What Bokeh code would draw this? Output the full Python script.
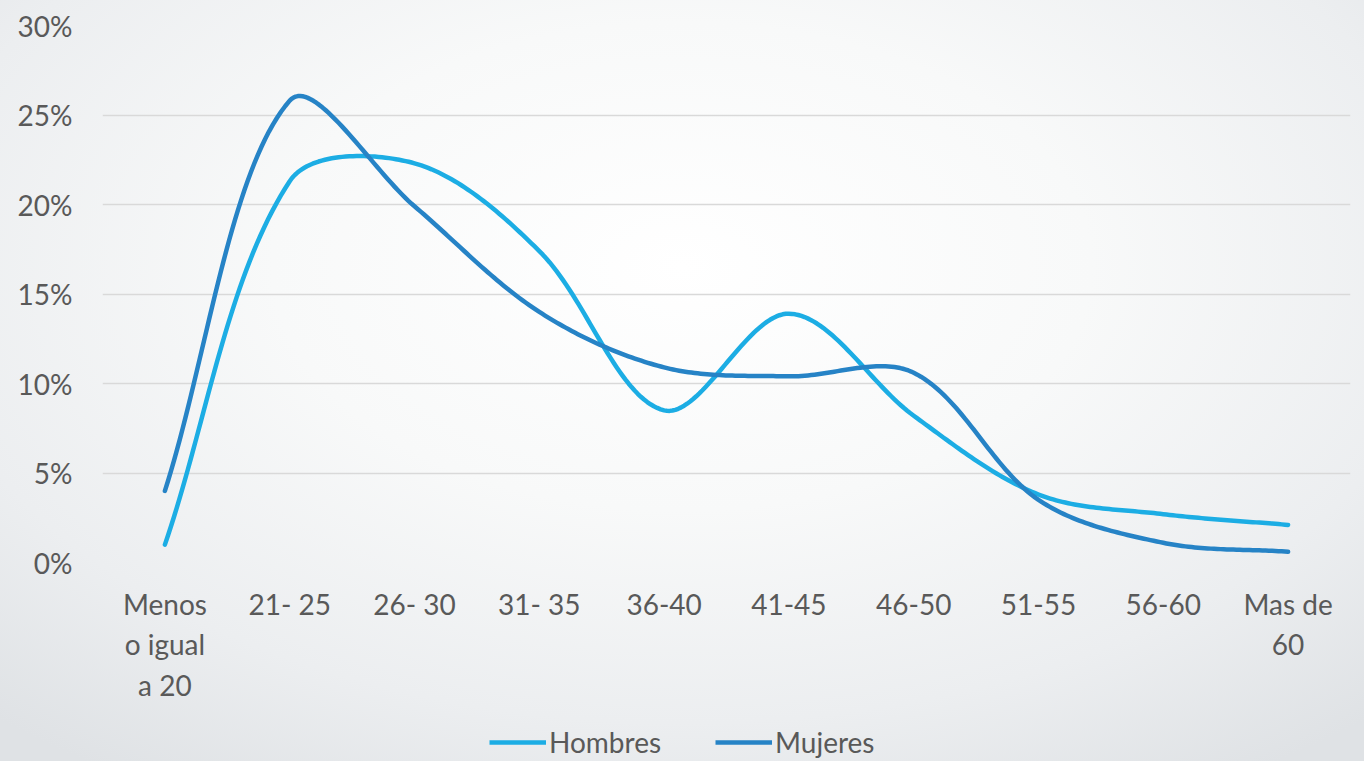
from bokeh.plotting import figure
from bokeh.layouts import column
from bokeh.models import FixedTicker, Legend, LegendItem, PrintfTickFormatter, Range1d
from bokeh.embed import file_html
from bokeh.resources import INLINE
import numpy as np

categories = ["Menos\no igual\na 20", "21- 25", "26- 30", "31- 35", "36-40",
              "41-45", "46-50", "51-55", "56-60", "Mas de\n60"]
hombres = [1.0, 21.3, 22.3, 17.4, 8.5, 13.9, 8.2, 3.8, 2.7, 2.1]
mujeres = [4.0, 25.8, 19.9, 14.0, 10.9, 10.4, 10.6, 3.5, 1.1, 0.6]
series_names = ["Hombres", "Mujeres"]
y_ticks = [0, 5, 10, 15, 20, 25, 30]

FONT = "Lato"
TXT = "#595959"
C_H = "#1CADE4"
C_M = "#2683C6"

W = 1364
H_MAIN, H_LEG = 721, 40
BL, BR, BT, BB = 102, 14, 25, 159
SX = (W - BL - BR) / 10.0          # px per category
SY = (H_MAIN - BT - BB) / 30.0     # px per percent


def smooth(vals, steps=40):
    # Excel-like smoothed line: Bezier segments, control points scaled by segment lengths (screen space)
    P = np.column_stack([np.arange(len(vals)) * SX, np.asarray(vals, float) * SY])
    n = len(P)
    ext = np.vstack([P[0], P, P[-1]])
    cf, cb = [], []
    for i in range(n):
        pm, pc, pp = ext[i], ext[i + 1], ext[i + 2]
        T = pp - pm
        d0 = np.linalg.norm(pc - pm)
        d1 = np.linalg.norm(pp - pc)
        s = d0 + d1
        cf.append(pc + T * (d1 / s) / 3 if s else pc)
        cb.append(pc - T * (d0 / s) / 3 if s else pc)
    ox, oy = [], []
    for i in range(n - 1):
        p0, p1, p2, p3 = P[i], cf[i], cb[i + 1], P[i + 1]
        t = np.linspace(0, 1, steps, endpoint=(i == n - 2))[:, None]
        b = (1 - t) ** 3 * p0 + 3 * (1 - t) ** 2 * t * p1 + 3 * (1 - t) * t ** 2 * p2 + t ** 3 * p3
        ox.extend(b[:, 0] / SX); oy.extend(b[:, 1] / SY)
    return ox, oy


p = figure(width=W, height=H_MAIN, output_backend="svg", toolbar_location=None,
           x_range=Range1d(-0.5, 9.5), y_range=Range1d(0, 30),
           min_border_left=BL, min_border_right=BR, min_border_top=BT, min_border_bottom=BB)
p.background_fill_color = None
p.border_fill_color = None
p.outline_line_color = None

hx, hy = smooth(hombres)
mx, my = smooth(mujeres)
p.line(hx, hy, line_color=C_H, line_width=4.5, line_cap="round", line_join="round")
p.line(mx, my, line_color=C_M, line_width=4.5, line_cap="round", line_join="round")

# axes
p.xaxis.ticker = FixedTicker(ticks=list(range(len(categories))))
p.xaxis.major_label_overrides = {i: c for i, c in enumerate(categories)}
p.yaxis.ticker = FixedTicker(ticks=y_ticks)
p.yaxis.formatter = PrintfTickFormatter(format="%d%%")
for ax in (p.xaxis[0], p.yaxis[0]):
    ax.axis_line_color = None
    ax.major_tick_line_color = None
    ax.minor_tick_line_color = None
    ax.major_label_text_font = FONT
    ax.major_label_text_font_size = "28px"
    ax.major_label_text_color = TXT
p.yaxis.major_label_standoff = 24
p.xaxis.major_label_standoff = 18
p.xaxis.major_label_text_line_height = 1.2

p.xgrid.grid_line_color = None
p.ygrid.grid_line_color = "#d9d9d9"
p.ygrid.grid_line_width = 1.5

# legend strip below the chart (its frame is aligned with the chart frame by the column)
lg = figure(width=W, height=H_LEG, output_backend="svg", toolbar_location=None,
            x_axis_type=None, y_axis_type=None, x_range=Range1d(0, 1), y_range=Range1d(0, 1),
            min_border_left=0, min_border_right=0, min_border_top=0, min_border_bottom=0)
lg.background_fill_color = None
lg.border_fill_color = None
lg.outline_line_color = None
lg.grid.grid_line_color = None
lh = lg.line([-10, -9], [-10, -9], line_color=C_H, line_width=4.5)
lm = lg.line([-10, -9], [-10, -9], line_color=C_M, line_width=4.5)
legend = Legend(items=[LegendItem(label=series_names[0], renderers=[lh]),
                       LegendItem(label=series_names[1], renderers=[lm])],
                orientation="horizontal", location=(387, 2),
                label_text_font=FONT, label_text_font_size="28px", label_text_color=TXT,
                glyph_width=57, glyph_height=20, label_standoff=3, spacing=54,
                padding=0, margin=0, background_fill_alpha=0, border_line_color=None)
lg.add_layout(legend, "center")

layout = column(p, lg, spacing=0)
layout.styles = {"background": "radial-gradient(ellipse 75% 80% at 50% 35%, #ffffff 0%, #f8f9f9 40%, #eceef0 75%, #dfe2e5 100%)"}

open("out.html", "w").write(file_html(layout, INLINE))
